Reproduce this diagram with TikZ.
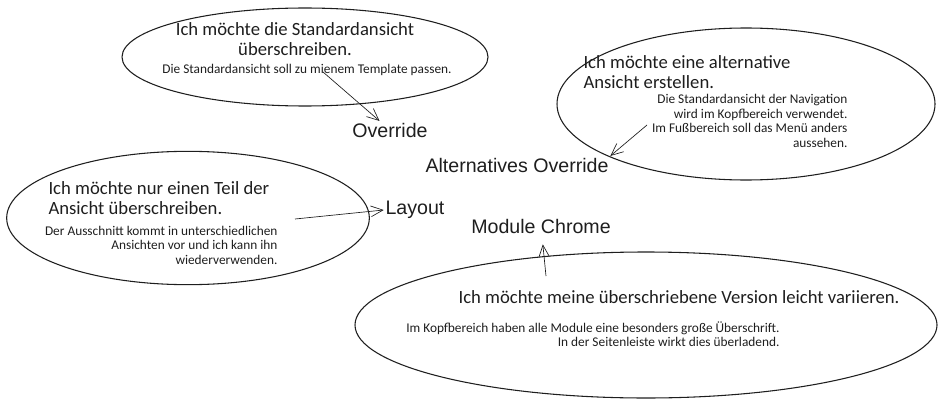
\documentclass[tikz,border=0pt]{standalone}
\usepackage{fontspec}
\setmainfont{Liberation Sans}
\newfontfamily\handfont{Carlito}
\usetikzlibrary{arrows.meta, shapes.geometric}
\definecolor{cink}{HTML}{1E1E1E}
\tikzset{
  every picture/.style={line width=0.8pt, color=cink},
  bubble/.style={draw=cink, ellipse, inner sep=0pt},
  arrow/.style={-{Straight Barb[length=9pt, width=8pt]}, draw=cink, line width=0.5pt},
  wish/.style={font=\handfont\fontsize{14}{14.6}\selectfont, inner sep=0pt},
  detail/.style={font=\handfont\fontsize{10}{10.9}\selectfont, inner sep=0pt},
  topic/.style={font=\fontsize{14.7}{17}\selectfont, inner sep=1pt},
}

\begin{document}
\begin{tikzpicture}[x=0.75pt, y=-0.75pt]
  \useasboundingbox (0,0) rectangle (945,403);
  % speech bubbles
  \node[bubble, minimum width=274.5pt, minimum height=73.5pt] (bub1) at (305,57) {};
  \node[bubble, minimum width=283.5pt, minimum height=114pt] (bub2) at (746,104) {};
  \node[bubble, minimum width=272pt, minimum height=100pt] (bub3) at (188,218) {};
  \node[bubble, minimum width=436.5pt, minimum height=109.5pt] (bub4) at (646,325) {};
  % wishes and details
  \node[wish, align=center] (wish1) at (295,39) {Ich möchte die Standardansicht\\überschreiben.};
  \node[detail] (det1) at (307,70) {Die Standardansicht soll zu mienem Template passen.};
  \node[wish, align=left, anchor=west] (wish2) at (583,72) {Ich möchte eine alternative\\Ansicht erstellen.};
  \node[detail, align=right, anchor=east] (det2) at (848,121) {Die Standardansicht der Navigation\\wird im Kopfbereich verwendet.\\Im Fußbereich soll das Menü anders\\aussehen.};
  \node[wish, align=left, anchor=west] (wish3) at (48,198) {Ich möchte nur einen Teil der\\Ansicht überschreiben.};
  \node[detail, align=right, anchor=east] (det3) at (278,245) {Der Ausschnitt kommt in unterschiedlichen\\Ansichten vor und ich kann ihn\\wiederverwenden.};
  \node[wish] (wish4) at (679,297) {Ich möchte meine überschriebene Version leicht variieren.};
  \node[detail, align=right, anchor=east] (det4) at (780,334) {Im Kopfbereich haben alle Module eine besonders große Überschrift.\\In der Seitenleiste wirkt dies überladend.};
  % topics
  \node[topic] (ovr) at (390,130) {Override};
  \node[topic] (alt) at (517,165) {Alternatives Override};
  \node[topic] (lay) at (415,210) {Layout};
  \node[topic] (mod) at (541,226) {Module Chrome};
  % pointers
  \coordinate (src1) at (323,72);
  \coordinate (src2) at (647,125);
  \coordinate (src3) at (295,219);
  \coordinate (src4) at (546,276);
  \draw[arrow] (src1) -- (ovr);
  \draw[arrow] (src2) -- (alt.north east);
  \draw[arrow] (src3) -- (lay.west);
  \draw[arrow, shorten >=7pt] (src4) -- (mod);
\end{tikzpicture}
\end{document}
